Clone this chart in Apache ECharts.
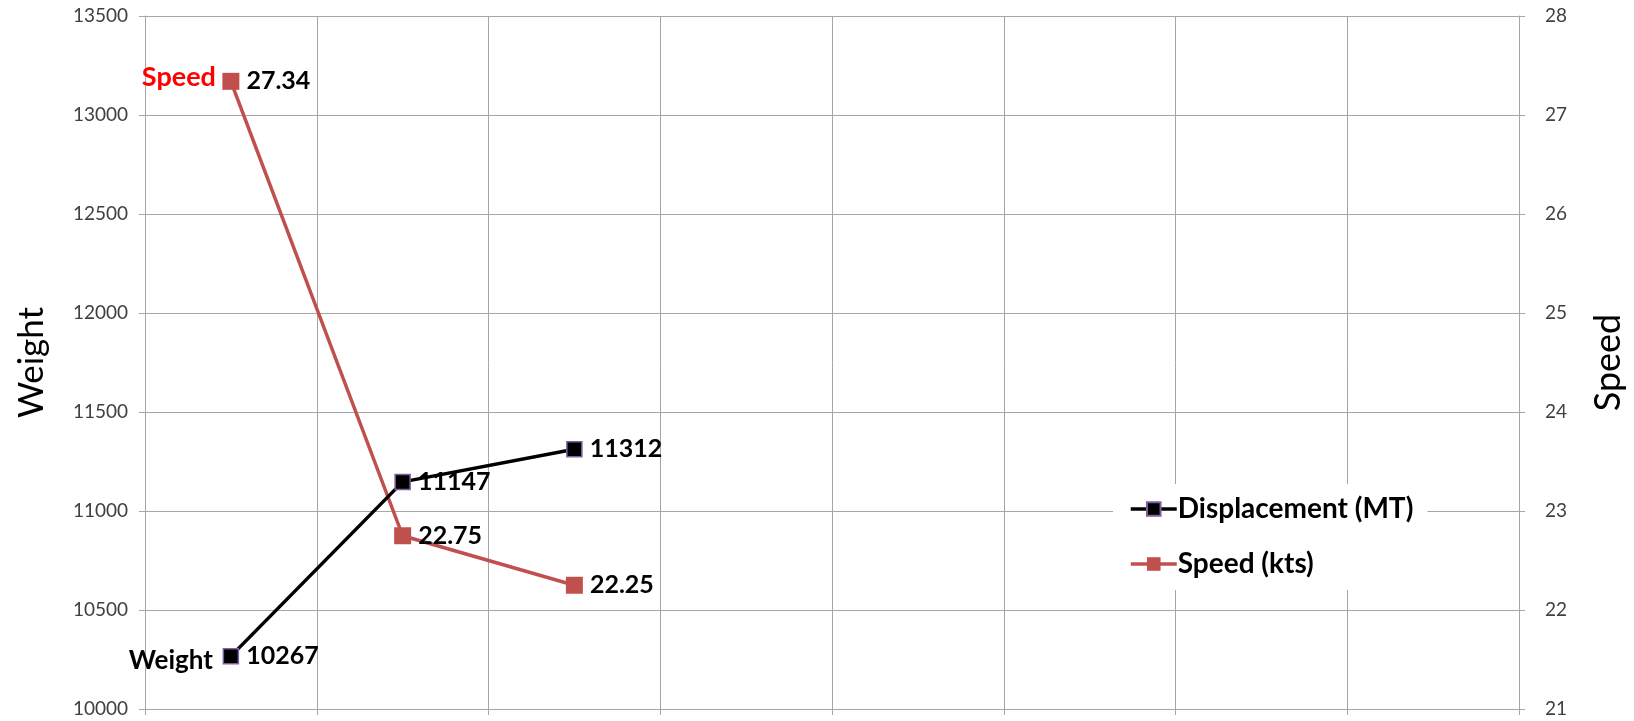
<!DOCTYPE html>
<html>
<head>
<meta charset="utf-8">
<script src="https://cdn.jsdelivr.net/npm/echarts@6/dist/echarts.min.js"></script>
<style>
  html, body { margin: 0; padding: 0; background: #fff; }
  #chart { width: 1634px; height: 721px; }
</style>
</head>
<body>
<div id="chart"></div>
<script>
// Eight category slots; only the first three carry measurements
const categories = ['1', '2', '3', '4', '5', '6', '7', '8'];
const displacement = [10267, 11147, 11312, null, null, null, null, null];
const speed = [27.34, 22.75, 22.25, null, null, null, null, null];
const weightTicks = { min: 10000, max: 13500, interval: 500 };
const speedTicks = { min: 21, max: 28, interval: 1 };

const FONT = 'Lato, "Open Sans", sans-serif';
const GRID = '#a6a6a6';
const RED = '#c0504d';

const chart = echarts.init(document.getElementById('chart'));
chart.setOption({
  animation: false,
  backgroundColor: '#fff',
  textStyle: { fontFamily: FONT },
  grid: { left: 145, right: 110, top: 16, bottom: 12, containLabel: false },
  legend: {
    orient: 'vertical',
    left: 1113,
    top: 484,
    padding: [11, 14, 12, 16],
    itemGap: 27,
    itemWidth: 46,
    itemHeight: 17,
    backgroundColor: '#fff',
    lineStyle: { width: 3.5 },
    textStyle: { fontFamily: FONT, fontSize: 28, fontWeight: 'bold', color: '#000', padding: [0, 0, 0, -4] },
    data: ['Displacement (MT)', 'Speed (kts)']
  },
  xAxis: {
    type: 'category',
    data: categories,
    boundaryGap: true,
    axisLine: { lineStyle: { color: GRID, width: 1 } },
    axisTick: { show: true, length: 6, lineStyle: { color: GRID } },
    axisLabel: { show: false },
    splitLine: { show: true, lineStyle: { color: GRID, width: 1 } }
  },
  yAxis: [
    {
      type: 'value',
      min: weightTicks.min, max: weightTicks.max, interval: weightTicks.interval,
      name: 'Weight',
      nameLocation: 'middle',
      nameGap: 96,
      nameRotate: 90,
      nameTextStyle: { fontFamily: FONT, fontSize: 35, color: '#000' },
      axisLine: { show: true, lineStyle: { color: GRID } },
      axisTick: { show: true, length: 6, lineStyle: { color: GRID } },
      axisLabel: { fontFamily: FONT, fontSize: 19, color: '#404040', margin: 17, formatter: v => String(v) },
      splitLine: { show: true, lineStyle: { color: GRID, width: 1 } }
    },
    {
      type: 'value',
      position: 'right',
      min: speedTicks.min, max: speedTicks.max, interval: speedTicks.interval,
      name: 'Speed',
      nameLocation: 'middle',
      nameGap: 71,
      nameRotate: 90,
      nameTextStyle: { fontFamily: FONT, fontSize: 36, color: '#000' },
      axisLine: { show: true, lineStyle: { color: GRID } },
      axisTick: { show: true, length: 6, lineStyle: { color: GRID } },
      axisLabel: { fontFamily: FONT, fontSize: 19, color: '#404040', margin: 26 },
      splitLine: { show: false }
    }
  ],
  series: [
    {
      name: 'Speed (kts)',
      type: 'line',
      yAxisIndex: 1,
      data: speed,
      symbol: 'rect',
      symbolSize: 17,
      lineStyle: { color: RED, width: 3.5 },
      itemStyle: { color: RED, borderColor: RED, borderWidth: 0 },
      label: {
        show: true, position: 'right', distance: 7,
        fontFamily: FONT, fontSize: 25, fontWeight: 'bold', color: '#000'
      },
      markPoint: {
        symbol: 'rect',
        symbolSize: 0,
        data: [{ coord: [categories[0], speed[0]], value: 'Speed' }],
        label: {
          show: true, position: 'left', distance: 15, offset: [0, -4],
          formatter: 'Speed',
          fontFamily: FONT, fontSize: 27, fontWeight: 'bold', color: '#ff0000'
        }
      },
      z: 3
    },
    {
      name: 'Displacement (MT)',
      type: 'line',
      yAxisIndex: 0,
      data: displacement,
      symbol: 'rect',
      symbolSize: 15,
      lineStyle: { color: '#000', width: 3.5 },
      itemStyle: { color: '#000', borderColor: '#7f5fa0', borderWidth: 1.5 },
      label: {
        show: true, position: 'right', distance: 7,
        fontFamily: FONT, fontSize: 25, fontWeight: 'bold', color: '#000'
      },
      markPoint: {
        symbol: 'rect',
        symbolSize: 0,
        data: [{ coord: [categories[0], displacement[0]], value: 'Weight' }],
        label: {
          show: true, position: 'left', distance: 18, offset: [0, 4],
          formatter: 'Weight',
          fontFamily: FONT, fontSize: 26, fontWeight: 'bold', color: '#000'
        }
      },
      z: 4
    }
  ]
});
</script>
</body>
</html>
